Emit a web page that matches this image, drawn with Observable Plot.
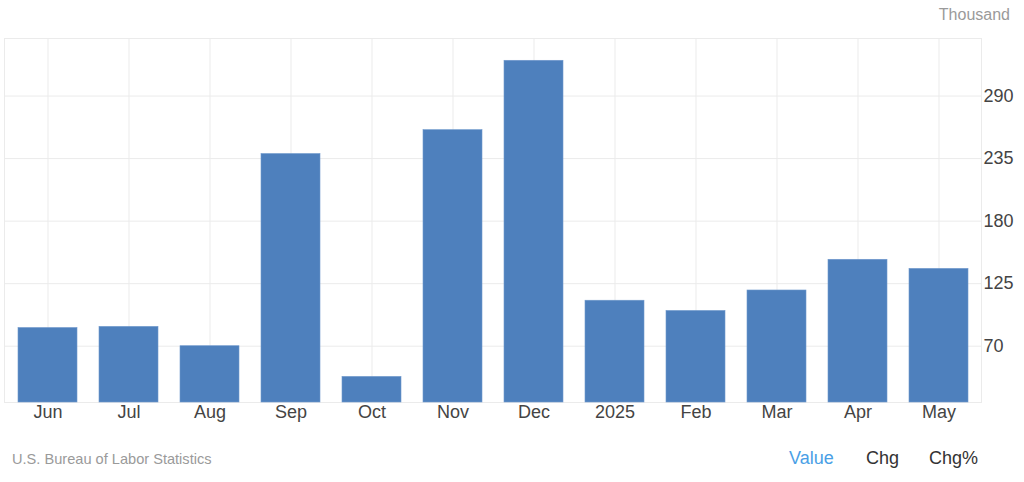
<!DOCTYPE html>
<html>
<head>
<meta charset="utf-8">
<script src="https://cdn.jsdelivr.net/npm/d3@7"></script>
<script src="https://cdn.jsdelivr.net/npm/@observablehq/plot@0.6"></script>
<style>
  html, body { margin: 0; padding: 0; background: #fff; }
  #wrap { position: relative; width: 1024px; height: 482px; font-family: "Liberation Sans", Arial, sans-serif; }
  #chart { position: absolute; left: 0; top: 0; }
  .unit { position: absolute; right: 14px; top: 6px; font-size: 16px; color: #9a9a9a; }
  .source { position: absolute; left: 12px; top: 451px; font-size: 14.6px; color: #9a9a9a; }
  .tabs { position: absolute; top: 448px; font-size: 18px; }
</style>
</head>
<body>
<div id="wrap">
  <div id="chart"></div>
  <div class="unit">Thousand</div>
  <div class="source">U.S. Bureau of Labor Statistics</div>
  <div class="tabs" style="left:789px;color:#4a9fe6;">Value</div>
  <div class="tabs" style="left:866px;color:#333;">Chg</div>
  <div class="tabs" style="left:929px;color:#333;">Chg%</div>
</div>
<script>
const months = ["Jun","Jul","Aug","Sep","Oct","Nov","Dec","2025","Feb","Mar","Apr","May"];
const values = [86, 87, 70, 239, 43, 260, 321, 110, 101, 119, 146, 138];
const yTicks = [70, 125, 180, 235, 290];

const data = months.map((m, i) => ({month: m, value: values[i]}));

const chart = Plot.plot({
  width: 1024,
  height: 482,
  marginTop: 38,
  marginBottom: 80,
  marginLeft: 4,
  marginRight: 43,
  style: {fontFamily: "'Liberation Sans', Arial, sans-serif", fontSize: "18px", color: "#444", background: "#fff"},
  x: {
    type: "band",
    domain: months,
    paddingInner: 0.275,
    paddingOuter: 0.1375,
    label: null
  },
  y: {
    domain: [20.5, 340.6],
    clamp: true,
    label: null
  },
  marks: [
    Plot.gridY(yTicks, {stroke: "#ebebeb", strokeOpacity: 1}),
    Plot.gridX(months, {stroke: "#ebebeb", strokeOpacity: 1}),
    Plot.frame({stroke: "#ebebeb"}),
    Plot.barY(data, {x: "month", y: "value", fill: "#4e80bd", stroke: "#6f98cc", strokeWidth: 0.6}),
    Plot.axisX({tickSize: 0, tickPadding: 3, fontSize: 18, fill: "#444", label: null}),
    Plot.axisY(yTicks, {anchor: "right", tickSize: 0, tickPadding: 2, fontSize: 18, fill: "#444", label: null})
  ]
});
document.getElementById("chart").appendChild(chart);
</script>
</body>
</html>
